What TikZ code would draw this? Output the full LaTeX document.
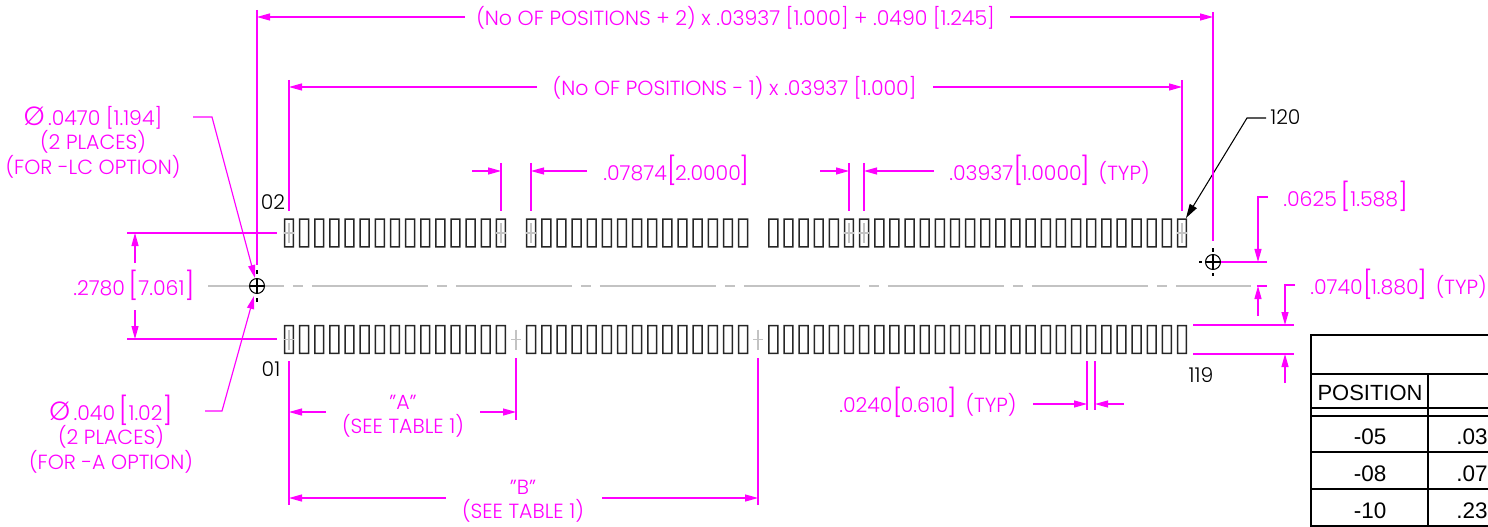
\documentclass[tikz,border=0pt]{standalone}
\usepackage{fontspec}
\setmainfont{Poppins}[UprightFont=* Light]
\newfontfamily\tablefont{Liberation Sans}
\usetikzlibrary{arrows.meta}
\definecolor{dimcolor}{RGB}{255,0,255}
\definecolor{cl}{RGB}{195,195,195}
\newcommand{\brk}[1]{{\fontsize{15.5}{15.5}\selectfont[}#1{\fontsize{15.5}{15.5}\selectfont]}}
\newcommand{\tbrk}[1]{{\fontsize{15.5}{15.5}\selectfont[}\kern-1pt#1\kern-1pt{\fontsize{15.5}{15.5}\selectfont]}}
\tikzset{
  dimtext/.style={text=dimcolor, inner sep=0pt, align=center, font=\fontsize{11.65}{13.9}\selectfont},
  extline/.style={dimcolor, line width=0.65pt},
  dimarrow/.style={dimcolor, line width=0.65pt, -{Triangle[length=7.4pt, width=4pt]}},
  leader/.style={black, line width=0.6pt, -{Triangle[length=8pt, width=4.6pt]}},
  tag/.style={inner sep=0pt, font=\fontsize{11.6}{13}\selectfont},
  pin/.style={black!85, even odd rule},
  centermark/.style={cl, line width=0.6pt},
  hole/.style={black, line width=0.6pt},
  cell/.style={inner sep=0pt, font=\tablefont\fontsize{12.8}{15}\selectfont},
  rule/.style={black, line width=0.9pt}
}
\begin{document}
\begin{tikzpicture}[x=0.02cm, y=-0.02cm]
  \useasboundingbox (0,0) rectangle (1488,527);

  % centre line and holes
  \draw[cl, line width=0.7pt, dash pattern=on 2.32cm off 0.18cm on 0.2cm off 0.18cm, dash phase=0.8cm]
    (208,286) -- (1251,286);
  \coordinate (holeL) at (257,286);
  \coordinate (holeR) at (1213,262);
  \draw[hole] (holeL) circle (7.5);
  \draw[hole] (holeR) circle (7.5);
  \draw[hole] (249.5,286) -- (264.5,286) (257,278.5) -- (257,293.5);
  \draw[hole] (257,270) -- (257,274) (257,298) -- (257,302);
  \draw[hole] (1205.5,262) -- (1220.5,262) (1213,254.5) -- (1213,269.5);
  \draw[hole] (1213,248) -- (1213,252) (1213,273) -- (1213,276) (1199,262) -- (1202,262);

  % contacts
  \foreach \rowy in {233,339.5} {
    \foreach \first/\last in {0/14,16/30,32/59} {
      \foreach \n [evaluate=\n as \pinx using 289+15.136*\n] in {\first,...,\last} {
        \fill[pin] ({\pinx-5.2},{\rowy-14.7}) rectangle ({\pinx+5.2},{\rowy+14.7})
          ({\pinx-3.7},{\rowy-13.2}) rectangle ({\pinx+3.7},{\rowy+13.2});
      }
    }
  }
  \foreach \markx/\marky in {289/233,501/233,531/233,849/233,864/233,1182/233,289/339.5,516/339.5,758/339.5} {
    \draw[centermark] ({\markx-5},\marky) -- ({\markx+5},\marky) (\markx,{\marky-10}) -- (\markx,{\marky+10});
  }

  % pin numbers
  \node[tag] (pin02) at (273,202) {02};
  \node[tag] (pin01) at (271,369) {01};
  \node[tag] (pin119) at (1201,375) {119};
  \node[tag, anchor=west] (pin120) at (1270,117) {120};
  \coordinate (pin120tip) at (1186,218);
  \draw[leader] (pin120.west) ++(-4,1) -- (1247,118) -- (pin120tip);

  % overall lengths
  \node[dimtext] (overall) at (735.5,18) {(No OF POSITIONS + 2) x .03937 [1.000] + .0490 [1.245]};
  \node[dimtext] (pitched) at (734.5,88) {(No OF POSITIONS - 1) x .03937 [1.000]};
  \draw[extline] (257,10) -- (257,265);
  \draw[extline] (1213,12) -- (1213,241);
  \draw[extline] (289,80) -- (289,211);
  \draw[extline] (1182,80) -- (1182,211);
  \draw[dimarrow] (465,17) -- (257,17);
  \draw[dimarrow] (1010,17) -- (1213,17);
  \draw[dimarrow] (537,87) -- (289,87);
  \draw[dimarrow] (933,87) -- (1182,87);

  % gaps above the upper row
  \node[dimtext, anchor=west] (gapwide) at (603,170) {.07874\tbrk{2.0000}};
  \node[dimtext, anchor=west] (gapnarrow) at (949,170) {.03937\tbrk{1.0000}\hspace{5pt}(TYP)};
  \draw[extline] (501,163) -- (501,211);
  \draw[extline] (531,163) -- (531,211);
  \draw[extline] (849,163) -- (849,211);
  \draw[extline] (864,163) -- (864,211);
  \draw[dimarrow] (472,171) -- (501,171);
  \draw[dimarrow] (587,171) -- (531,171);
  \draw[dimarrow] (820,171) -- (849,171);
  \draw[dimarrow] (934,171) -- (864,171);

  % row spacing
  \node[dimtext, anchor=west] (rowgap) at (73,285) {.2780\,\brk{7.061}};
  \draw[extline] (127,233) -- (277,233);
  \draw[extline] (127,339) -- (277,339);
  \draw[dimarrow] (135,263) -- (135,233);
  \draw[dimarrow] (135,310) -- (135,339);

  % hole callouts
  \node[dimtext] (holeLC) at (93,142) {{\fontsize{15}{14}\selectfont Ø}\,.0470 [1.194]\\(2 PLACES)\\(FOR -LC OPTION)};
  \node[dimtext] (holeA) at (111,434) {{\fontsize{15}{14}\selectfont Ø}\,.040\,\brk{1.02}\\(2 PLACES)\\(FOR -A OPTION)};
  \draw[dimarrow] (193,117) -- (212,117) -- (255,278);
  \draw[dimarrow] (205,411) -- (222,411) -- (254,296);

  % table lengths
  \node[dimtext] (lenA) at (403,416) {"A"\\(SEE TABLE 1)};
  \node[dimtext] (lenB) at (523,501.5) {"B"\\(SEE TABLE 1)};
  \draw[extline] (289,361) -- (289,505);
  \draw[extline] (516,358) -- (516,420);
  \draw[extline] (758,358) -- (758,505);
  \draw[dimarrow] (326,412) -- (289,412);
  \draw[dimarrow] (480,412) -- (516,412);
  \draw[dimarrow] (446,498) -- (289,498);
  \draw[dimarrow] (602,498) -- (758,498);

  % pin width
  \node[dimtext, anchor=west] (pinwidth) at (839,402) {.0240\tbrk{0.610}\hspace{5pt}(TYP)};
  \draw[extline] (1087,361) -- (1087,410);
  \draw[extline] (1095,361) -- (1095,410);
  \draw[dimarrow] (1033,404) -- (1087,404);
  \draw[dimarrow] (1124,404) -- (1095,404);

  % offsets on the right
  \node[dimtext, anchor=west] (offset) at (1283,196) {.0625\,\brk{1.588}};
  \node[dimtext, anchor=west] (pinlen) at (1310,284) {.0740\tbrk{1.880}\hspace{5pt}(TYP)};
  \draw[extline] (1221,262) -- (1267,262);
  \draw[extline] (1257,286) -- (1267,286);
  \draw[extline] (1193,325) -- (1294,325);
  \draw[extline] (1193,354) -- (1294,354);
  \draw[dimarrow] (1268,197) -- (1258,197) -- (1258,262);
  \draw[dimarrow] (1258,316) -- (1258,286);
  \draw[dimarrow] (1295,285) -- (1285,285) -- (1285,325);
  \draw[dimarrow] (1285,383) -- (1285,354);

  % table
  \draw[rule] (1488,335) -- (1311,335) -- (1311,526) -- (1488,526);
  \foreach \liney in {374,408,416,452,489} {
    \draw[rule] (1311,\liney) -- (1488,\liney);
  }
  \draw[rule] (1428,374) -- (1428,526);
  \node[cell, font=\tablefont\fontsize{12.5}{15}\selectfont] (position) at (1370,393) {POSITION};
  \node[cell] (opt05) at (1370,437) {-05};
  \node[cell] (opt08) at (1370,474) {-08};
  \node[cell] (opt10) at (1370,511) {-10};
  \node[cell, anchor=west] (val05) at (1456,437) {.03};
  \node[cell, anchor=west] (val08) at (1456,474) {.07};
  \node[cell, anchor=west] (val10) at (1456,511) {.23};
\end{tikzpicture}
\end{document}
